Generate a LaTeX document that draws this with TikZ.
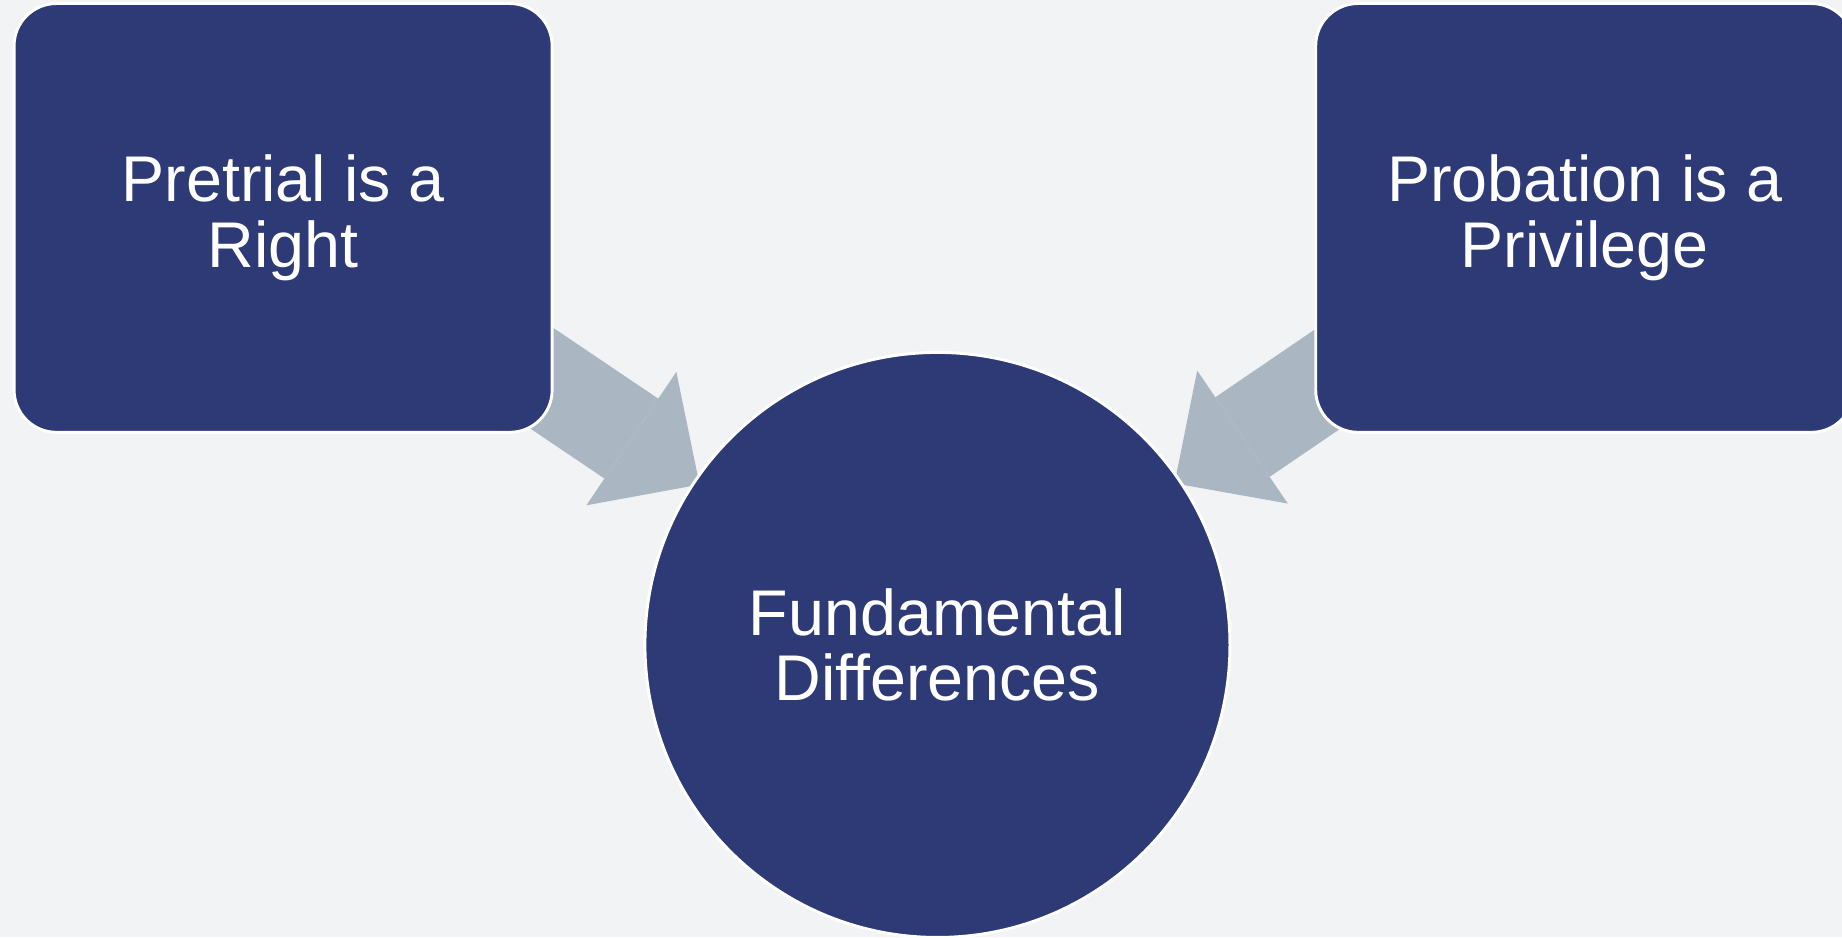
\documentclass[tikz,border=0pt]{standalone}
\usepackage{fontspec}
\setmainfont{Liberation Sans}
\usetikzlibrary{arrows.meta,backgrounds}
\definecolor{navy}{RGB}{46,58,118}
\definecolor{arrowgray}{RGB}{170,182,194}
\definecolor{bggray}{RGB}{242,243,245}

\begin{document}
\begin{tikzpicture}[x=0.5pt,y=-0.5pt,
  shape base/.style={draw=white, line width=1.25pt, fill=navy, text=white, align=center, inner sep=0pt, font=\fontsize{27.5}{28}\selectfont},
  box/.style={shape base, rectangle, rounded corners=18pt, minimum width=229pt, minimum height=182.5pt},
  hub/.style={shape base, circle, minimum size=249pt},
  bigarrow/.style={arrowgray, line width=41pt, shorten >=-3pt, -{Triangle[width=68.5pt,length=35pt,line width=0pt]}}]
\useasboundingbox (0,0) rectangle (1568,798);
\node[box] (pre) at (241,185.5) {Pretrial is a\\Right};
\node[box] (prob) at (1349,185.5) {Probation is a\\Privilege};
\node[hub] (fund) at (798,549) {Fundamental\\Differences};
\begin{scope}[on background layer]
\fill[bggray] (0,0) rectangle (1568,798);
\draw[bigarrow] ([yshift=6pt]pre.center) -- (fund);
\draw[bigarrow] ([yshift=6pt]prob.center) -- (fund);
\end{scope}
\end{tikzpicture}
\end{document}
